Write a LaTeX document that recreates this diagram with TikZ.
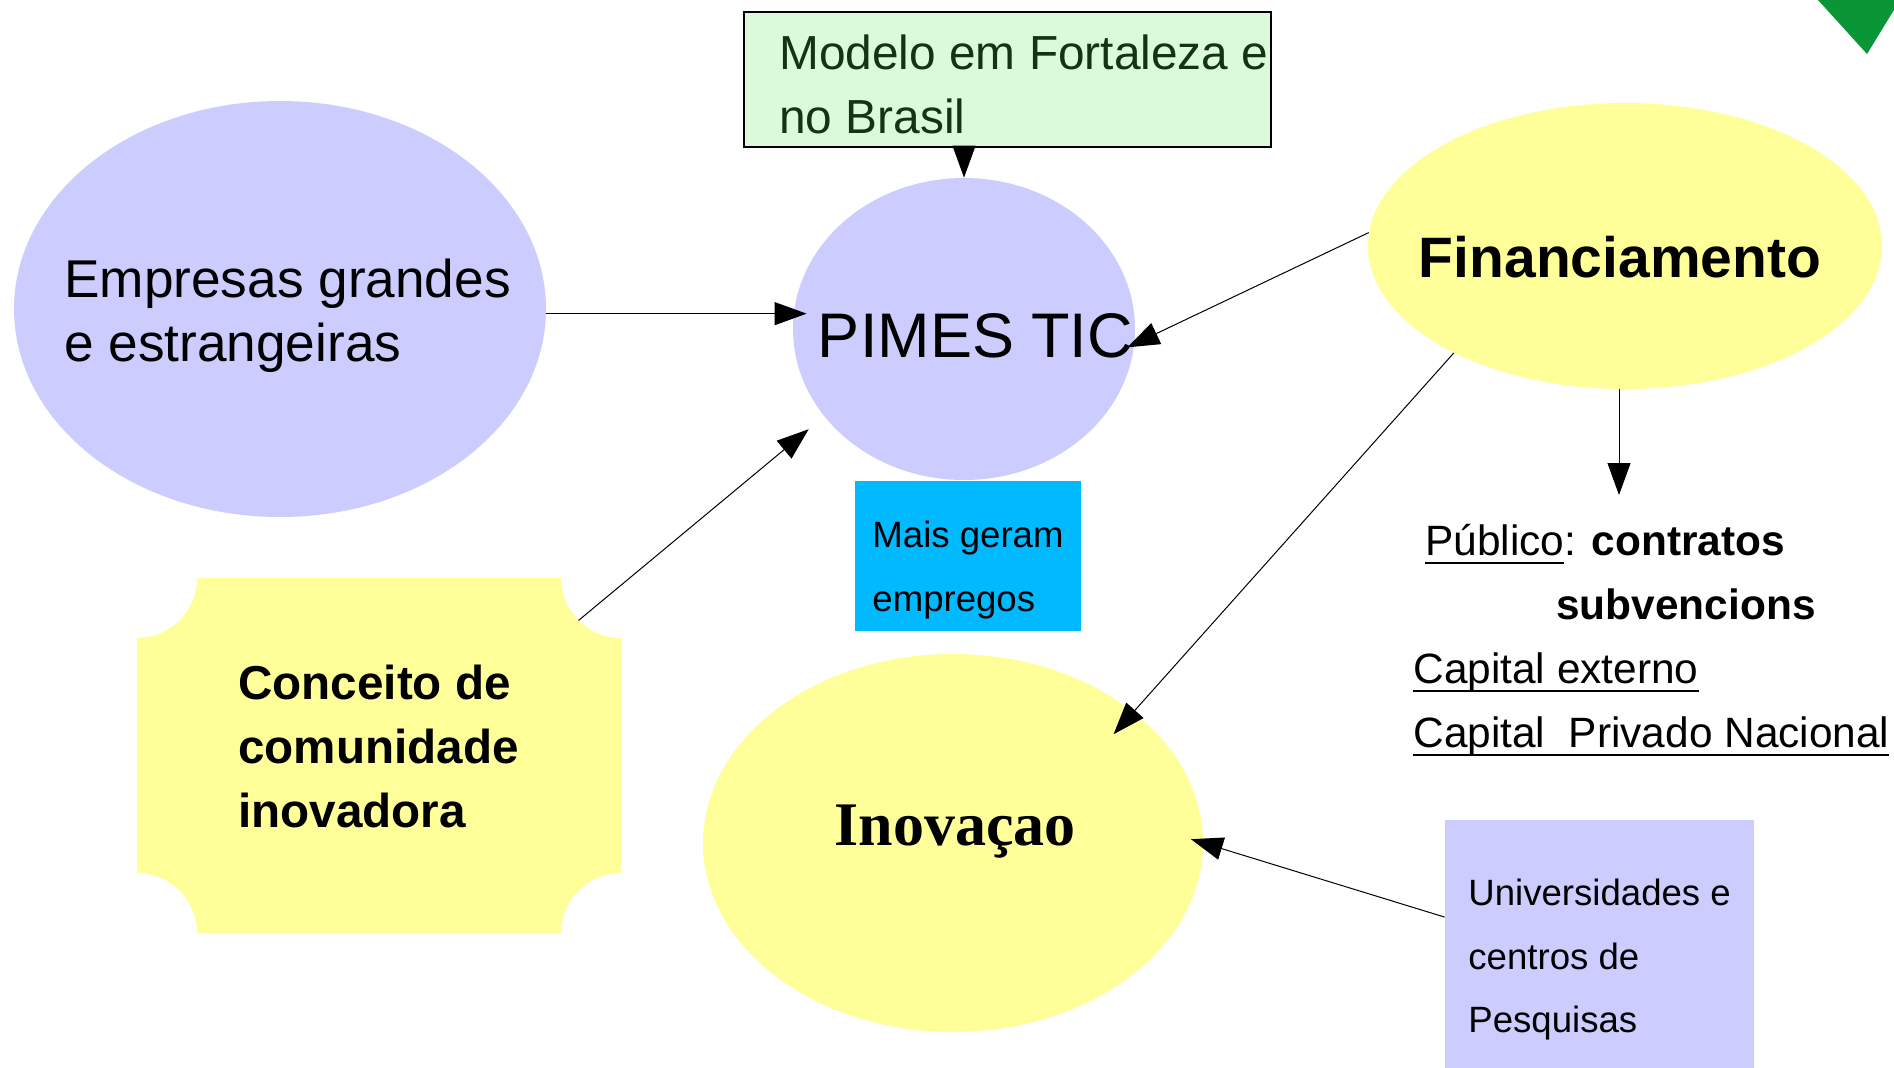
\documentclass[tikz,border=0pt]{standalone}
\usepackage{fontspec}
\setmainfont{Liberation Sans}
\newfontfamily\timesfont{Liberation Serif}
\usetikzlibrary{shapes.geometric,arrows.meta}
\definecolor{lilas}{RGB}{204,204,255}
\definecolor{amarelo}{RGB}{255,255,153}
\definecolor{menta}{RGB}{218,250,218}
\definecolor{ciano}{RGB}{0,185,255}
\definecolor{verde}{RGB}{10,150,55}
\definecolor{verdeesc}{RGB}{20,50,20}
\newcommand{\undl}[1]{\setbox0\hbox{#1}\rlap{\rule[-4.5pt]{\wd0}{1pt}}\box0}
\tikzset{
  blob/.style={ellipse, inner sep=0pt},
  caixa/.style={rectangle, inner sep=0pt},
  texto/.style={inner sep=0pt, align=left},
  lista/.style={inner sep=0pt, anchor=base west, font=\fontsize{21.2}{32}\selectfont},
  seta/.style={-{Triangle[length=16pt,width=11.5pt]}, line width=0.5pt},
}
\begin{document}
\begin{tikzpicture}[x=1pt,y=1pt]
                \useasboundingbox (0,0) rectangle (947,-533.5);
                \fill[verde] (909,0) -- (950,0) -- (933.5,-27) -- cycle;
                \node[caixa, draw, line width=0.8pt, fill=menta, minimum width=263.5pt, minimum height=67.5pt] (modelo) at (503.75,-39.75) {};
                \node[texto, anchor=west, text=verdeesc, font=\fontsize{23.9}{32}\selectfont] (modelotxt) at (389.5,-42) {Modelo em Fortaleza e\\no Brasil};
                \node[blob, fill=lilas, minimum width=266pt, minimum height=208pt] (emp) at (140,-154.5) {};
                \node[texto, font=\fontsize{26.6}{32}\selectfont] (emptxt) at (143.75,-158) {Empresas grandes\\e estrangeiras};
                \node[blob, fill=lilas, minimum width=171pt, minimum height=151pt] (pimes) at (482,-164.5) {};
                \node[texto, font=\fontsize{31.5}{36}\selectfont] (pimestxt) at (487.75,-168) {PIMES TIC};
                \node[blob, fill=amarelo, minimum width=257pt, minimum height=143pt] (fin) at (812.5,-123) {};
                \node[texto, font=\fontsize{28.5}{34}\selectfont\bfseries] (fintxt) at (810,-128.5) {Financiamento};
                \node[caixa, fill=ciano, minimum width=113pt, minimum height=75pt] (mais) at (484,-278) {};
                \node[texto, anchor=west, font=\fontsize{18.3}{32}\selectfont] (maistxt) at (436,-285) {Mais geram\\empregos};
                \fill[amarelo] (98.5,-289) -- (280.5,-289) arc[start angle=180, end angle=270, radius=30]
                    -- (310.5,-436.5) arc[start angle=90, end angle=180, radius=30]
                    -- (98.5,-466.5) arc[start angle=0, end angle=90, radius=30]
                    -- (68.5,-319) arc[start angle=270, end angle=360, radius=30] -- cycle;
                \node[texto, anchor=west, font=\fontsize{23.8}{32}\selectfont\bfseries] (conceito) at (119,-373) {Conceito de\\comunidade\\inovadora};
                \coordinate (concout) at (289.3,-310.2);
                \node[blob, fill=amarelo, minimum width=250pt, minimum height=189pt] (ino) at (476.5,-421.5) {};
                \node[texto, font=\fontsize{31}{36}\selectfont\timesfont\bfseries] (inotxt) at (477.5,-416) {Inovaçao};
                \node[caixa, fill=lilas, minimum width=154.5pt, minimum height=130pt] (univ) at (799.75,-475) {};
                \node[texto, anchor=west, font=\fontsize{18.3}{31.75}\selectfont] (univtxt) at (734,-480) {Universidades e\\centros de\\Pesquisas};
                \node[lista] (pub) at (712.5,-277.5) {\undl{Público}: \textbf{contratos}};
                \node[lista] (subv) at (778,-309.5) {\textbf{subvencions}};
                \node[lista] (capext) at (706.5,-341.5) {\undl{Capital externo}};
                \node[lista] (capnac) at (706.5,-373.5) {\undl{Capital\ \ Privado Nacional}};
                \coordinate (finend) at (809.5,-247.5);
                \draw[seta, shorten >=-7pt] (emp.-1) -- (emp.-1 -| pimes.west);
                \draw[seta] (pimes.north |- modelo.south) -- (pimes.north);
                \draw[seta, shorten >=-4pt] (fin.177) -- (pimes.-5);
                \draw[seta, shorten >=10pt] (concout) -- (pimes.212);
                \draw[seta, shorten >=-15pt] (fin.212) -- (ino.36);
                \draw[seta] (fin.south -| finend) -- (finend);
                \draw[seta, shorten >=-6.5pt] (univ.168) -- (ino.east);
            \end{tikzpicture}
\end{document}
